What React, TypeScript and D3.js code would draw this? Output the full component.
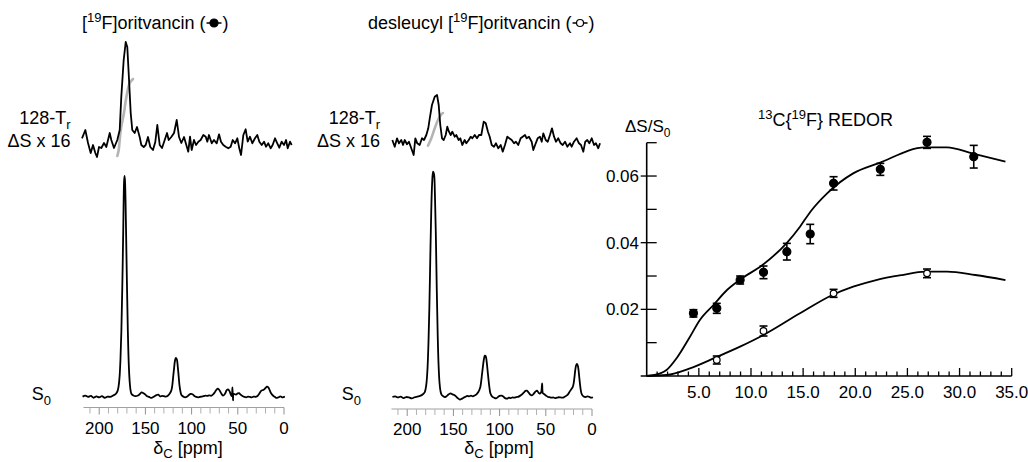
import React, { useEffect, useRef } from "react";
import * as d3 from "d3";

// ---------- DATA ----------
// S0 spectra: [ppm, intensity % of main peak]
const s0Left: [number, number][] = [
  [218, 0.3], [215, 0.8], [212, 0.2], [209, 0.6], [206, -0.2], [203, 0.4], [200, 0], [197, 0.5], [194, -0.2], [191, 0.3],
  [188, 0.2], [185, 0.8], [182, 1.5], [180, 3], [179, 5], [178, 9], [177, 17], [176, 30], [175, 50], [174, 75],
  [173.5, 90], [173, 98], [172.5, 100], [172, 97], [171.5, 89], [171, 77], [170, 52], [169, 30], [168, 15], [167, 7],
  [166, 3], [165, 1.5], [163, 0.8], [161, 0.5], [158, 0.8], [156, 1.5], [154, 2.2], [152, 1.8], [150, 1.2], [148, 0.5],
  [146, 0.2], [144, -0.3], [142, 0], [140, 0.5], [138, 1], [136, 1.2], [134, 0.4], [132, 0.6], [130, 0.5], [128, 0.3],
  [126, 0.6], [124, 1.5], [122, 3], [121, 5], [120, 9], [119, 13], [118, 16.5], [117, 17.8], [116, 17.2], [115, 14],
  [114, 9.5], [113, 5], [112, 2.5], [111, 1], [109, 0.3], [107, 0], [105, 0.3], [103, 1], [101, 1.5], [99, 1.4],
  [97, 0.6], [95, 0.2], [93, 0], [91, 0.2], [89, 0.3], [87, 0.5], [85, 0.8], [83, 0.6], [81, 0.9], [79, 0.7],
  [77, 1.2], [75, 2.2], [73, 3.5], [71.5, 3.9], [70, 3.3], [68, 1.8], [66, 0.8], [64, 1.5], [62, 3.2], [60.5, 3.6],
  [59, 2.8], [57.5, 1.2], [56.5, 0.5], [55.8, 4.5], [55.2, -1.4], [54.5, 1.5], [52, 1.2], [50, 1.8], [48.5, 1.9], [47, 1.2],
  [45, 0.6], [43, 0.2], [41, 0], [39, 0.3], [37, 0.2], [35, 0], [33, 0.3], [31, 0.2], [29, 0.5], [27, 1.5],
  [25, 2.8], [23.5, 3.2], [22, 3.4], [20, 4.2], [18.5, 4.8], [17, 4.5], [15.5, 3.2], [14, 1.8], [12, 0.8], [10, 0.2],
  [8, -0.3], [6, 0], [4, 0.4], [2, 0], [0, 0.2], [-1, 0.3],
];

const s0Mid: [number, number][] = [
  [216, 0.3], [213, 0.6], [210, 0.1], [207, 0.5], [204, -0.2], [201, 0.3], [198, 0.1], [195, -0.3], [192, 0.2], [189, 0.5],
  [186, 0.8], [183, 1.5], [181, 2.5], [180, 4], [179, 7], [178, 13], [177, 24], [176, 40], [175, 62], [174, 82],
  [173, 95], [172, 100], [171, 99], [170, 90], [169, 72], [168, 48], [167, 28], [166, 14], [165, 6.5], [164, 3],
  [163, 1.5], [161, 0.6], [159, 0.3], [157, 0.8], [155, 1.5], [153, 1.9], [151, 1.5], [149, 1.2], [147, 0.5], [145, -0.3],
  [143, -0.8], [141, -0.5], [139, 0], [137, 0.4], [135, 0.8], [133, 0.6], [131, 0.9], [129, 0.6], [127, 1], [125, 1.5],
  [123, 2.5], [121, 4.5], [120, 7], [119, 10.5], [118, 14], [117, 17], [116, 18.6], [115, 18.3], [114, 16], [113, 12],
  [112, 8], [111, 4.5], [110, 2], [108, 0.5], [106, 0], [104, -0.3], [102, 0.2], [100, 0.8], [98, 0.9], [96, 0.5],
  [94, -0.2], [92, -0.4], [90, 0], [88, -0.2], [86, 0.1], [84, 0], [82, 0.3], [80, 0.4], [78, 0.8], [76, 1.4],
  [74, 2.2], [72, 3], [70.5, 3.1], [69, 2.5], [67, 1.4], [65, 1], [63, 1.8], [61, 2.8], [59.5, 3.1], [58, 2.3],
  [56.5, 1.8], [55, 2.5], [54, 6.3], [53.2, 2], [52, 1.6], [50, 1], [48, 0.4], [46, 0.2], [44, 0], [42, 0.1],
  [40, -0.2], [38, 0], [36, 0.2], [34, 0.1], [32, 0], [30, 0.3], [28, 0.8], [26, 1.5], [24, 2.8], [22, 4],
  [21, 4.6], [20, 6], [19, 9], [18, 12.5], [17, 14.5], [16, 14.9], [15, 13.5], [14, 10], [13, 6], [12, 3],
  [11, 1.5], [9, 0.5], [7, 0.3], [5, 0.6], [3, 0.4], [1, 0], [-1, 0.2],
];

// 128-Tr difference spectra (x16): [ppm, intensity]
const dsLeft: [number, number][] = [
  [218.6, 4.7], [215, 13], [212.1, 0], [209.2, -10], [206.7, -2], [204.2, -10], [202.4, -14], [200.2, -4], [197.7, -5], [194.8, 0],
  [192.3, -4], [188.6, 10], [186.9, 3], [184, -5], [180.4, 3], [177.8, 13], [176.1, 46], [173.5, 83], [171.3, 101], [169.6, 96],
  [167.7, 63], [165.9, 30], [164.2, 13], [161.6, 10], [159.1, 16], [156.2, 6], [154.4, -2], [151.8, -4], [149.7, -2], [147.2, 6],
  [144.7, -4], [141.8, -7], [139.3, 1], [137.1, 18], [134.5, -2], [132, -5], [129.1, 3], [126.6, 10], [124.8, 3], [122, 6],
  [119, 10], [116.1, 23], [113.6, 6], [111.1, 0], [108.2, 6], [105.7, -2], [103.6, -8.7], [101.7, 6.3], [99.9, -7], [97.4, 3],
  [95.2, -2], [92.7, 1.3], [90.2, 3], [87.3, 8], [84.7, 6.3], [83, 1.3], [81.2, 8], [78.2, -0.3], [75.8, 3], [72.8, -0.3],
  [70.3, 8.7], [68.2, 1.3], [65.7, -2], [63.1, -3.7], [60.3, -5.3], [57.7, -3.7], [55.5, 3], [53, -0.3], [50.5, 4.7], [48.4, -5.3],
  [46.5, -12], [44, 8], [41.5, 13.7], [39.3, 1.3], [36.8, 6.3], [34.3, -0.3], [31.4, 4.7], [28.9, 8], [26.7, 1.3], [24.1, -2],
  [21.6, 1.3], [19.5, -3.7], [17, -0.3], [14.4, -5.3], [12.3, -2], [9.7, 4.7], [7.3, -0.3], [5.1, -4.7], [2.5, 1.3], [0, -2],
  [-2.2, 3], [-4, -5.3], [-6.5, 1.3], [-8.3, -2],
];

const dsMid: [number, number][] = [
  [216.1, 2], [213.5, -4.7], [211, 3.7], [208.9, -1.3], [206.4, 2], [204.5, -3], [202.7, 2], [200.2, -2.3], [198.1, 0.3], [195.6, -6.3],
  [193, -13], [191.2, 3.7], [189.1, -1.3], [186.5, -3], [184, 3.7], [181.8, 2], [179.3, 7], [177.2, 13.7], [175.6, 23.7], [173.2, 37],
  [170.2, 45.3], [167.7, 47], [165.9, 37], [164.2, 17], [162.3, 3.7], [160.5, 2], [158.3, 7], [156.6, 15.3], [154.8, 10.3], [152.9, 7],
  [151.2, 10.3], [148.6, 5.3], [146.9, 7], [144.3, 2], [142.5, 3.7], [140.4, -3], [137.8, 2], [136, -1.3], [133.4, 2], [131.3, 5.3],
  [129.5, 3.7], [126.9, 7], [124.5, 3.7], [122.3, 7], [119.8, 7], [117.2, 20.3], [115, 18.7], [112.6, 10.3], [110.7, 5.3], [108.5, -3],
  [106.1, -4.7], [103.9, -1.3], [101.4, -6.3], [98.8, -3], [96.6, -9.7], [94.2, -3], [91.7, 5.3], [89.5, 3.7], [86.9, 2], [84.4, -1.3],
  [82.3, 0.3], [79.8, -3], [77.2, 3.7], [75, 5.3], [72.5, 7], [70.7, 3.7], [68.2, 5.3], [65.3, 0.3], [63.5, -8], [60.9, -1.3],
  [58.8, 3.7], [56.3, 5.3], [54.4, 0.3], [52.7, 8.7], [50.1, 2], [47.9, 0.3], [45.5, 7], [43.3, 13.7], [41.1, 5.3], [39, 0.3],
  [36.5, 3.7], [33.9, -1.3], [31.7, -3], [29.2, 0.3], [26.7, -4.7], [23.8, -1.3], [22, -4.7], [19.5, 0.3], [16.6, 3.7], [14.1, -1.3],
  [11.9, -3], [9.4, -9.7], [7.3, 0.3], [5.1, 2], [2.9, -1.3], [0.3, 3.7], [-2.2, -3], [-4.3, -1.3], [-6.8, -6.3], [-8.7, -1.3],
];

// grey reference traces on the difference spectra
const grayLeft: [number, number][] = [[180.4, -13], [178.9, -7], [176.7, 13], [173.2, 30], [170.6, 46], [167, 60], [163.4, 64]];
const grayMid: [number, number][] = [[177.5, -3.7], [173.9, 3.7], [170.2, 13.7], [166.7, 22], [163.1, 27.7], [161.3, 29]];

const ppmTickLabels = [200, 150, 100, 50, 0];
const ppmTicks = [210, 200, 190, 180, 170, 160, 150, 140, 130, 120, 110, 100, 90, 80, 70, 60, 50, 40, 30, 20, 10, 0];

// REDOR data
const tFilled = [4.48, 6.72, 8.96, 11.2, 13.44, 15.68, 17.92, 22.4, 26.88, 31.36];
const dFilled = [0.0188, 0.0203, 0.0288, 0.0311, 0.0373, 0.0426, 0.0578, 0.062, 0.0701, 0.0658];
const eFilled = [0.0011, 0.0015, 0.0012, 0.0019, 0.0025, 0.0029, 0.002, 0.0018, 0.0018, 0.0034];
const tOpen = [6.72, 11.2, 17.92, 26.88];
const dOpen = [0.0048, 0.0135, 0.0248, 0.0308];
const eOpen = [0.0012, 0.0015, 0.0012, 0.0013];
const fitFilled: [number, number][] = [
  [0, 0], [1.3, 0.0008], [1.9, 0.0018], [2.9, 0.0055], [4.15, 0.0118], [5.1, 0.0168], [6.4, 0.0213], [7.7, 0.0258],
  [8.9, 0.0288], [11.1, 0.0333], [13.4, 0.0398], [14.7, 0.0448], [15.7, 0.0493], [17.3, 0.0548], [19.8, 0.0608],
  [22.2, 0.0638], [26.7, 0.0686], [28.8, 0.0686], [31.2, 0.0668], [34.4, 0.0643],
];
const fitOpen: [number, number][] = [
  [0, 0], [1.9, 0.0003], [4.15, 0.0023], [6.64, 0.0056], [8.95, 0.0088], [11.2, 0.0123], [14.7, 0.0188],
  [17.8, 0.0243], [19.8, 0.0268], [22, 0.0288], [24.5, 0.0303], [26.7, 0.0313], [28.8, 0.0313], [31.5, 0.0303], [34.4, 0.0288],
];
const redorXTickLabels = [5, 10, 15, 20, 25, 30, 35];
const redorYTickLabels = [0.02, 0.04, 0.06];

const W = 1028;
const H = 462;
const FONT = "'Liberation Sans', Arial, Helvetica, sans-serif";

export default function App() {
  const ref = useRef<SVGSVGElement>(null);

  useEffect(() => {
    const svg = d3.select(ref.current);
    svg.selectAll("*").remove();
    svg.attr("font-family", FONT);

    // helper for text with sub/superscript pieces: [text, mode] mode: 0 normal, 1 sup, -1 sub
    const richText = (
      g: any, x: number, y: number, parts: [string, number][], size: number, anchor = "start", subDy = 5
    ) => {
      const t = g.append("text").attr("x", x).attr("y", y).attr("font-size", size)
        .attr("text-anchor", anchor).attr("fill", "#000");
      let cur = 0;
      parts.forEach(([s, mode]) => {
        const target = mode === 1 ? -7 : mode === -1 ? subDy : 0;
        t.append("tspan").attr("dy", target - cur)
          .attr("font-size", mode === 0 ? size : Math.round(size * 0.72))
          .text(s);
        cur = target;
      });
      return t;
    };

    const titleWithSymbol = (x: number, y: number, parts: [string, number][], filled: boolean) => {
      const t = richText(svg, x, y, parts, 18);
      const w = (t.node() as SVGTextElement).getComputedTextLength();
      const x0 = x + w + 1;
      svg.append("line").attr("x1", x0).attr("x2", x0 + 15).attr("y1", y - 6).attr("y2", y - 6)
        .attr("stroke", "#000").attr("stroke-width", 1.5);
      svg.append("circle").attr("cx", x0 + 7.5).attr("cy", y - 6).attr("r", filled ? 4 : 3.5)
        .attr("fill", filled ? "#000" : "#fff").attr("stroke", "#000").attr("stroke-width", 1.2);
      svg.append("text").attr("x", x0 + 16).attr("y", y).attr("font-size", 18).text(")");
    };

    // ---------- spectra panels ----------
    const panels = [
      {
        x0: 284, s0: s0Left, ds: dsLeft, gray: grayLeft, s0Base: 397.3, s0Top: 176, dsBase: 143,
        axisY: 407.5, labelY: 434, ppmLabel: 188, lblRight: 70.5, s0X: 31.7,
        title: [["[", 0], ["19", 1], ["F]oritvancin (", 0]] as [string, number][], titleX: 82, filled: true,
      },
      {
        x0: 592, s0: s0Mid, ds: dsMid, gray: grayMid, s0Base: 397.7, s0Top: 171.7, dsBase: 142,
        axisY: 409, labelY: 435, ppmLabel: 499, lblRight: 380, s0X: 341.7,
        title: [["desleucyl [", 0], ["19", 1], ["F]oritvancin (", 0]] as [string, number][], titleX: 368, filled: false,
      },
    ];

    panels.forEach((p) => {
      const x = d3.scaleLinear().domain([0, 200]).range([p.x0, p.x0 - 184.8]);
      const yS0 = d3.scaleLinear().domain([0, 100]).range([p.s0Base, p.s0Top]);
      const yDs = d3.scaleLinear().domain([0, 100]).range([p.dsBase, p.dsBase - 100]);

      // grey reference trace
      svg.append("path").datum(p.gray)
        .attr("d", d3.line<[number, number]>().x((d) => x(d[0])).y((d) => yDs(d[1])).curve(d3.curveCatmullRom.alpha(0.5)))
        .attr("fill", "none").attr("stroke", "#b4b4b4").attr("stroke-width", 2.6).attr("stroke-linecap", "round");

      // difference spectrum
      svg.append("path").datum(p.ds)
        .attr("d", d3.line<[number, number]>().x((d) => x(d[0])).y((d) => yDs(d[1])).curve(d3.curveLinear))
        .attr("fill", "none").attr("stroke", "#000").attr("stroke-width", 1.8).attr("stroke-linejoin", "round");

      // S0 spectrum
      svg.append("path").datum(p.s0)
        .attr("d", d3.line<[number, number]>().x((d) => x(d[0])).y((d) => yS0(d[1])).curve(d3.curveCatmullRom.alpha(0.5)))
        .attr("fill", "none").attr("stroke", "#000").attr("stroke-width", 1.8).attr("stroke-linejoin", "round");

      // axis
      const ag = svg.append("g");
      ag.append("line").attr("x1", x(217)).attr("x2", x(0)).attr("y1", p.axisY).attr("y2", p.axisY)
        .attr("stroke", "#a0a0a0").attr("stroke-width", 1);
      ppmTicks.forEach((v) => {
        const major = v % 50 === 0;
        ag.append("line").attr("x1", x(v)).attr("x2", x(v)).attr("y1", p.axisY).attr("y2", p.axisY + (major ? 7 : 6))
          .attr("stroke", major ? "#909090" : "#b0b0b0").attr("stroke-width", 1);
      });
      ppmTickLabels.forEach((v) => {
        ag.append("text").attr("x", x(v)).attr("y", p.labelY).attr("text-anchor", "middle")
          .attr("font-size", 17).text(String(v));
      });
      richText(svg, p.ppmLabel, 454, [["δ", 0], ["C", -1], [" [ppm]", 0]], 18, "middle", 3.5);

      // labels
      richText(svg, p.lblRight, 124, [["128-T", 0], ["r", -1]], 18, "end");
      richText(svg, p.lblRight, 147, [["ΔS x 16", 0]], 18, "end");
      richText(svg, p.s0X, 400, [["S", 0], ["0", -1]], 18, "start");

      titleWithSymbol(p.titleX, 29, p.title, p.filled);
    });

    // ---------- REDOR panel ----------
    const xr = d3.scaleLinear().domain([0, 35]).range([646.7, 1011.7]);
    const yr = d3.scaleLinear().domain([0, 0.07]).range([376, 142.7]);
    const rg = svg.append("g");

    rg.append("line").attr("x1", xr(0) - 6).attr("x2", xr(35)).attr("y1", yr(0)).attr("y2", yr(0))
      .attr("stroke", "#000").attr("stroke-width", 1.6);
    rg.append("line").attr("x1", xr(0)).attr("x2", xr(0)).attr("y1", yr(0)).attr("y2", yr(0.07))
      .attr("stroke", "#000").attr("stroke-width", 1.6);
    d3.range(1, 36).forEach((v) => {
      const major = v % 5 === 0;
      rg.append("line").attr("x1", xr(v)).attr("x2", xr(v)).attr("y1", yr(0)).attr("y2", yr(0) - (major ? 8 : 4.5))
        .attr("stroke", "#000").attr("stroke-width", 1.3);
    });
    redorXTickLabels.forEach((v) => {
      rg.append("text").attr("x", xr(v)).attr("y", 398).attr("text-anchor", "middle").attr("font-size", 17)
        .text(v.toFixed(1));
    });
    [0.01, 0.02, 0.03, 0.04, 0.05, 0.06, 0.07].forEach((v) => {
      const major = redorYTickLabels.some((m) => Math.abs(m - v) < 1e-9);
      rg.append("line").attr("x1", xr(0) - (major ? 6 : 0)).attr("x2", xr(0) + 10).attr("y1", yr(v)).attr("y2", yr(v))
        .attr("stroke", "#000").attr("stroke-width", 1.3);
    });
    redorYTickLabels.forEach((v) => {
      rg.append("text").attr("x", 639).attr("y", yr(v) + 6).attr("text-anchor", "end").attr("font-size", 17)
        .text(v.toFixed(2));
    });
    richText(svg, 625, 131.7, [["ΔS/S", 0], ["0", -1]], 17, "start");
    richText(svg, 825.5, 126, [["13", 1], ["C{", 0], ["19", 1], ["F} REDOR", 0]], 18, "middle");

    const fitLine = d3.line<[number, number]>().x((d) => xr(d[0])).y((d) => yr(d[1])).curve(d3.curveMonotoneX);
    rg.append("path").datum(fitFilled).attr("d", fitLine).attr("fill", "none").attr("stroke", "#000").attr("stroke-width", 1.8);
    rg.append("path").datum(fitOpen).attr("d", fitLine).attr("fill", "none").attr("stroke", "#000").attr("stroke-width", 1.8);

    const drawPoints = (ts: number[], ds: number[], es: number[], filled: boolean) => {
      ts.forEach((t, i) => {
        const cx = xr(t);
        const y1 = yr(ds[i] + es[i]);
        const y2 = yr(ds[i] - es[i]);
        rg.append("line").attr("x1", cx).attr("x2", cx).attr("y1", y1).attr("y2", y2).attr("stroke", "#000").attr("stroke-width", 1.6);
        [y1, y2].forEach((yy) =>
          rg.append("line").attr("x1", cx - 4).attr("x2", cx + 4).attr("y1", yy).attr("y2", yy).attr("stroke", "#000").attr("stroke-width", 1.6)
        );
        rg.append("circle").attr("cx", cx).attr("cy", yr(ds[i])).attr("r", filled ? 4 : 3.3)
          .attr("fill", filled ? "#000" : "#fff").attr("stroke", "#000").attr("stroke-width", 1.2);
      });
    };
    drawPoints(tOpen, dOpen, eOpen, false);
    drawPoints(tFilled, dFilled, eFilled, true);
  }, []);

  return (
    <div style={{ position: "absolute", left: 0, top: 0, width: W, height: H, background: "#fff" }}>
      <svg ref={ref} width={W} height={H} style={{ display: "block" }} />
    </div>
  );
}
